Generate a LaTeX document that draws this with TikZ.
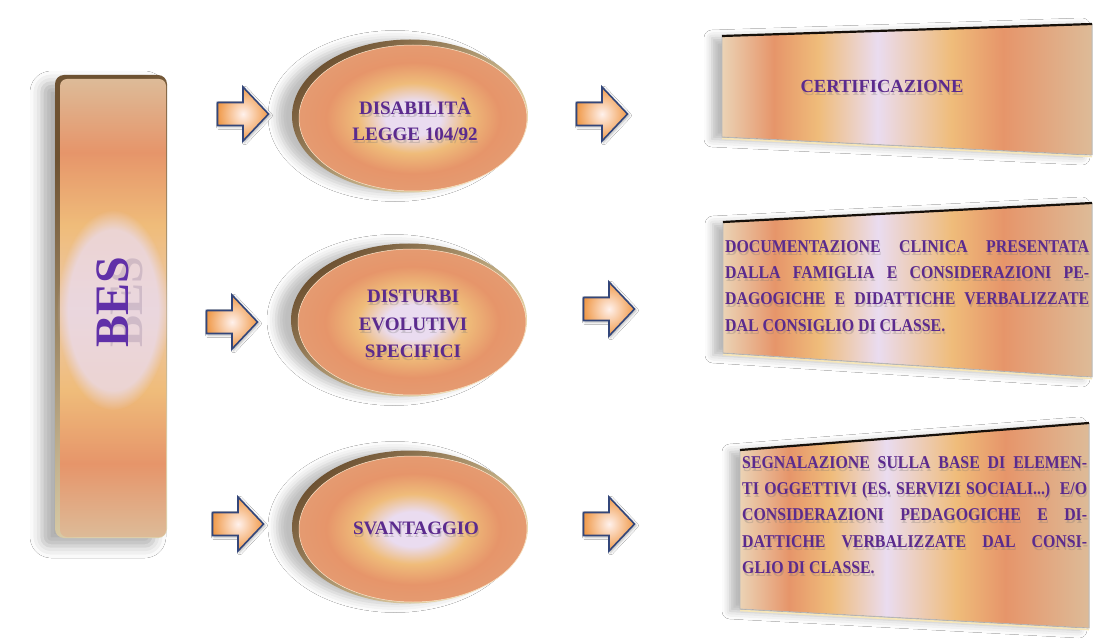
\documentclass[tikz,border=0pt]{standalone}
\usepackage{fontspec}
\setmainfont{Liberation Serif}
\newfontfamily\condfont[FakeStretch=0.88]{Liberation Serif}
\usetikzlibrary{shapes.geometric,shadows.blur,fadings}

\definecolor{txtc}{HTML}{5B2A8E}
\definecolor{besc}{HTML}{6030A8}
\definecolor{lav}{HTML}{EADCF0}
\definecolor{yel}{HTML}{EFBC7A}
\definecolor{sal}{HTML}{E6956A}
\definecolor{tanc}{HTML}{DDBB98}
\definecolor{cream}{HTML}{EBD3B5}
\definecolor{rimdark}{HTML}{6E5232}
\definecolor{rimlight}{HTML}{F6E6B8}
\definecolor{navy}{HTML}{33467A}
\definecolor{arrorange}{HTML}{F09A4A}
\definecolor{arrlight}{HTML}{FFF1EC}

\pgfdeclareradialshading{facesh}{\pgfpoint{0bp}{0bp}}{color(0bp)=(lav); color(6bp)=(lav); color(12bp)=(yel); color(19bp)=(sal); color(25bp)=(sal!85!tanc); color(50bp)=(sal!85!tanc)}
\pgfdeclarehorizontalshading{boxsh}{100bp}{color(0bp)=(cream); color(25bp)=(cream); color(32bp)=(sal); color(38bp)=(yel); color(46bp)=(lav); color(56bp)=(yel); color(63bp)=(sal); color(75bp)=(tanc); color(100bp)=(tanc)}
\pgfdeclareverticalshading{bessh}{100bp}{color(0bp)=(tanc); color(25bp)=(tanc); color(33bp)=(sal); color(41bp)=(yel); color(50bp)=(yel!60!lav); color(59bp)=(yel); color(67bp)=(sal); color(75bp)=(tanc); color(100bp)=(tanc)}

\newcommand{\jl}[2]{\makebox[#1][s]{#2}}
% text with a soft shadow: #1 name, #2 x,y, #3 style, #4 text
\newcommand{\shtxt}[4]{%
  \node[#3, text=black!55, opacity=.28] at ([shift={(1,3)}]#2) {#4};
  \node[#3] (#1) at (#2) {#4};}
% #1 name, #2 x,y of the arrow centre
\newcommand{\blockarrow}[2]{%
  \coordinate (#1) at (#2);
  \draw[blockarr] ([shift={(-25.5,-11.5)}]#1) -- ([shift={(0,-11.5)}]#1) -- ([shift={(0,-27)}]#1)
     -- ([shift={(25.5,0)}]#1) -- ([shift={(0,27)}]#1) -- ([shift={(0,11.5)}]#1)
     -- ([shift={(-25.5,11.5)}]#1) -- cycle;}

\begin{document}
\begin{tikzpicture}[
  x=1pt, y=-1pt,
  bigshadow/.style={blur shadow={shadow xshift=-13pt, shadow yshift=-8pt, shadow blur radius=12pt, shadow opacity=32}},
  ellshadow/.style={blur shadow={shadow xshift=-15pt, shadow yshift=0pt, shadow blur radius=9pt, shadow opacity=25}},
  boxshadow/.style={blur shadow={shadow xshift=-10pt, shadow yshift=-2pt, shadow blur radius=8pt, shadow opacity=28}},
  rim/.style={ellipse, inner sep=0pt, minimum width=236pt, minimum height=153pt, top color=rimdark, bottom color=rimlight, shading angle=40},
  face/.style={ellipse, inner sep=0pt, minimum width=228pt, minimum height=146pt, shading=facesh, draw=white!60!yel, line width=.5pt},
  blockarr/.style={draw=navy, line width=1.6pt, line join=miter, inner color=arrlight, outer color=arrorange,
     blur shadow={shadow xshift=1.5pt, shadow yshift=-1.5pt, shadow blur radius=2.5pt, shadow opacity=30}},
  lbl/.style={text=txtc, font=\bfseries\fontsize{19}{26}\selectfont, align=center, inner sep=0pt},
  boxtxt/.style={text=txtc, font=\condfont\bfseries\fontsize{18}{26.2}\selectfont, align=left, inner sep=0pt, anchor=west},
  bestxt/.style={rotate=90, text=besc, font=\bfseries\fontsize{48}{48}\selectfont, inner sep=0pt},
  topedge/.style={line width=2.2pt, black!80!rimdark},
  sideedge/.style={line width=.8pt, gray!55},
  lowedge/.style={line width=1.6pt, rimlight}
]
\fill[white] (0,0) rectangle (1094,644);
\useasboundingbox (0,0) rectangle (1094,644);

% ---------- BES column ----------
\node[bigshadow, rounded corners=9pt, inner sep=0pt, minimum width=112pt, minimum height=463pt,
      top color=rimdark, bottom color=rimlight!80!gray, shading angle=45] (besrim) at (111,306.5) {};
\node[rounded corners=7pt, inner sep=0pt, minimum width=106pt, minimum height=458pt, shading=bessh] (besface) at (113,308) {};
\fill[lav, opacity=.75, path fading=circle with fuzzy edge 20 percent] (113,310) ellipse (56 and 100);
\node[bestxt, text=txtc!40!gray, opacity=.22] at (127,302) {BES};
\node[bestxt] (bes) at (113,302) {BES};

% ---------- ellipses ----------
\node[rim, ellshadow] (e1rim) at (410,116) {};
\node[face] (e1) at (413,118) {};
\shtxt{l1}{415,119}{lbl}{DISABILITÀ\\LEGGE 104/92}

\node[rim, ellshadow] (e2rim) at (409,320) {};
\node[face] (e2) at (412,322) {};
\shtxt{l2}{413,324}{lbl, font=\bfseries\fontsize{19}{27.5}\selectfont}{DISTURBI\\EVOLUTIVI\\SPECIFICI}

\node[rim, ellshadow] (e3rim) at (410,527) {};
\node[face] (e3) at (413,529) {};
\shtxt{l3}{416,528}{lbl}{SVANTAGGIO}

% ---------- block arrows ----------
\blockarrow{a1}{243,114}
\blockarrow{a2}{232,322}
\blockarrow{a3}{238,524}
\blockarrow{b1}{602,114}
\blockarrow{b2}{609,309}
\blockarrow{b3}{609,524}

% ---------- right boxes ----------
\coordinate (p1tl) at (722,36);  \coordinate (p1tr) at (1092,24);
\coordinate (p1br) at (1092,155); \coordinate (p1bl) at (722,137);
\coordinate (p2tl) at (723,222); \coordinate (p2tr) at (1092,203);
\coordinate (p2br) at (1092,377); \coordinate (p2bl) at (723,353);
\coordinate (p3tl) at (740,450); \coordinate (p3tr) at (1089,423);
\coordinate (p3br) at (1089,628); \coordinate (p3bl) at (740,609);

\foreach \p in {p1,p2,p3}{
  \fill[boxshadow, shading=boxsh] (\p tl) -- (\p tr) -- (\p br) -- (\p bl) -- cycle;
  \draw[lowedge] ([yshift=-1.5pt]\p bl) -- ([yshift=-1.5pt]\p br);
  \draw[sideedge] (\p tr) -- (\p br) -- (\p bl) -- (\p tl);
  \draw[topedge] (\p tl) -- (\p tr);
}

\shtxt{t1}{882,86}{lbl, font=\bfseries\fontsize{18.5}{24}\selectfont}{CERTIFICAZIONE}
\shtxt{t2}{725,286}{boxtxt}{\jl{364pt}{DOCUMENTAZIONE CLINICA PRESENTATA}\\\jl{364pt}{DALLA FAMIGLIA E CONSIDERAZIONI PE-}\\\jl{364pt}{DAGOGICHE E DIDATTICHE VERBALIZZATE}\\DAL CONSIGLIO DI CLASSE.}
\shtxt{t3}{742,515}{boxtxt}{\jl{345pt}{SEGNALAZIONE SULLA BASE DI ELEMEN-}\\\jl{345pt}{TI OGGETTIVI (ES. SERVIZI SOCIALI...) E/O}\\\jl{345pt}{CONSIDERAZIONI PEDAGOGICHE E DI-}\\\jl{345pt}{DATTICHE VERBALIZZATE DAL CONSI-}\\GLIO DI CLASSE.}
\end{tikzpicture}
\end{document}
